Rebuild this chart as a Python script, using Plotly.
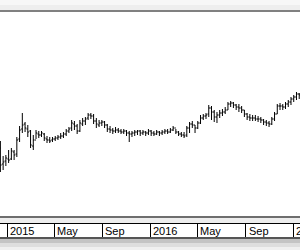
import pandas as pd
import plotly.graph_objects as go

# Weekly bars, first week starting 2014-12-15
start_week = "2014-12-15"
n_weeks = 110
dates = pd.date_range(start_week, periods=n_weeks, freq="7D")

opens = [15.2,13.6,13.9,14.1,14.1,14.8,14.6,16.1,17.1,17.6,
         17.1,16.9,15.4,16.0,16.6,16.5,16.6,16.1,16.0,16.0,
         16.1,16.2,16.3,16.4,16.6,16.9,17.2,17.6,17.4,16.9,
         17.6,17.9,18.2,18.5,18.4,17.9,17.5,17.7,17.8,17.5,
         17.1,17.0,16.9,17.0,16.9,16.8,16.9,16.7,16.6,16.7,
         16.8,16.9,16.7,16.8,16.7,16.9,16.7,16.6,16.8,16.7,
         16.8,16.9,16.8,17.0,17.2,16.8,16.6,16.5,16.5,17.2,
         17.6,17.5,17.2,17.7,18.2,18.4,18.6,19.2,18.8,18.3,
         18.5,18.7,18.8,19.0,19.6,19.7,19.5,19.3,19.2,19.0,
         18.6,18.3,18.2,18.2,18.1,18.1,18.0,17.8,17.7,17.6,
         18.1,18.6,19.4,19.4,19.3,19.6,19.8,20.1,20.3,20.6]
highs = [15.9,14.4,14.5,15.0,15.2,15.0,16.3,17.4,18.7,17.8,
         17.5,17.0,16.5,17.0,16.9,16.9,16.7,16.4,16.3,16.3,
         16.4,16.5,16.7,16.8,17.1,17.3,18.0,17.9,17.6,18.0,
         18.2,18.3,18.7,18.7,18.6,18.2,18.0,18.0,17.9,17.6,
         17.4,17.2,17.3,17.2,17.1,17.1,17.0,16.9,16.9,17.0,
         17.0,17.0,17.0,16.9,17.1,17.0,16.9,17.0,16.9,17.0,
         17.1,17.1,17.2,17.4,17.1,16.9,16.8,16.8,17.4,17.8,
         17.9,17.5,17.9,18.5,18.6,18.7,19.5,19.4,19.0,18.8,
         19.0,19.1,19.3,19.8,19.9,19.8,19.6,19.6,19.4,19.0,
         18.7,18.6,18.5,18.5,18.4,18.3,18.1,18.0,17.9,18.3,
         18.8,19.6,19.7,19.6,19.8,20.0,20.3,20.5,20.8,20.7]
lows = [12.8,13.0,13.4,13.7,14.0,14.0,14.3,15.8,16.7,16.8,
        16.3,15.2,15.0,16.1,16.2,16.3,15.9,15.7,15.7,15.8,
        15.9,16.0,16.1,16.2,16.4,16.7,16.9,17.0,16.6,16.8,
        17.4,17.5,18.0,18.1,17.6,17.2,17.3,17.4,17.2,16.8,
        16.7,16.6,16.7,16.7,16.6,16.6,16.4,15.8,16.3,16.4,
        16.5,16.4,16.5,16.4,16.5,16.4,16.4,16.5,16.4,16.5,
        16.6,16.6,16.7,16.9,16.6,16.4,16.3,16.2,16.3,16.7,
        17.2,16.7,17.1,17.6,18.0,18.1,18.3,18.0,17.8,17.7,
        18.2,18.4,18.6,19.0,19.3,19.2,19.0,18.8,18.7,18.3,
        18.0,17.9,17.9,17.9,17.8,17.7,17.5,17.4,17.3,17.5,
        17.9,18.6,19.0,19.0,19.1,19.3,19.5,19.8,20.0,20.1]
closes = [13.5,13.8,14.2,14.0,14.9,14.5,16.0,17.0,17.5,17.2,
          16.8,15.5,16.0,16.7,16.5,16.7,16.2,16.0,15.9,16.1,
          16.2,16.3,16.4,16.6,16.9,17.1,17.7,17.4,16.9,17.7,
          17.9,18.1,18.5,18.4,17.9,17.6,17.7,17.8,17.5,17.1,
          17.0,16.9,17.0,16.9,16.8,16.9,16.7,16.6,16.7,16.8,
          16.9,16.7,16.8,16.7,16.9,16.7,16.6,16.8,16.7,16.8,
          16.9,16.8,17.0,17.2,16.8,16.6,16.5,16.4,17.2,17.6,
          17.5,17.2,17.7,18.2,18.4,18.5,19.2,18.8,18.3,18.5,
          18.7,18.8,19.0,19.6,19.7,19.5,19.3,19.2,19.0,18.6,
          18.3,18.2,18.2,18.1,18.1,18.0,17.8,17.7,17.6,18.1,
          18.6,19.4,19.4,19.3,19.6,19.8,20.1,20.3,20.6,20.5]

tick_dates = ["2015-01-01", "2015-05-01", "2015-09-01", "2016-01-01",
              "2016-05-01", "2016-09-01", "2017-01-01"]
tick_labels = ["2015", "May", "Sep", "2016", "May", "Sep", "2017"]

W, H = 300, 250
TOP, AXIS_Y = 12, 223
PH = AXIS_Y - TOP


def py(ypix):
    return (AXIS_Y - ypix) / PH


fig = go.Figure(go.Ohlc(
    x=dates, open=opens, high=highs, low=lows, close=closes,
    increasing=dict(line=dict(color="#000000", width=1)),
    decreasing=dict(line=dict(color="#000000", width=1)),
    tickwidth=0.45, hoverinfo="skip", showlegend=False,
))

shapes = [
    # top grey band
    dict(type="rect", xref="paper", yref="paper", x0=0, x1=1, y0=py(0), y1=py(5),
         fillcolor="#f7f7f7", line_width=0, layer="above"),
    dict(type="rect", xref="paper", yref="paper", x0=0, x1=1, y0=py(5), y1=py(10),
         fillcolor="#eeeeee", line_width=0, layer="above"),
    dict(type="rect", xref="paper", yref="paper", x0=0, x1=1, y0=py(10), y1=py(12),
         fillcolor="#808080", line_width=0, layer="above"),
    # band above the date strip
    dict(type="rect", xref="paper", yref="paper", x0=0, x1=1, y0=py(216), y1=py(218),
         fillcolor="#6e6e6e", line_width=0, layer="above"),
    dict(type="rect", xref="paper", yref="paper", x0=0, x1=1, y0=py(218), y1=py(223),
         fillcolor="#ededed", line_width=0, layer="above"),
    # bottom of date strip
    dict(type="rect", xref="paper", yref="paper", x0=0, x1=1, y0=py(237), y1=py(239),
         fillcolor="#555555", line_width=0, layer="above"),
    dict(type="rect", xref="paper", yref="paper", x0=0, x1=1, y0=py(239), y1=py(243),
         fillcolor="#c4c4c4", line_width=0, layer="above"),
    dict(type="rect", xref="paper", yref="paper", x0=0, x1=1, y0=py(243), y1=py(247),
         fillcolor="#dedede", line_width=0, layer="above"),
    dict(type="rect", xref="paper", yref="paper", x0=0, x1=1, y0=py(247), y1=py(250),
         fillcolor="#f0f0f0", line_width=0, layer="above"),
]

annotations = [
    dict(x=d, y=py(230.5), xref="x", yref="paper", text=t, showarrow=False,
         xanchor="left", yanchor="middle", xshift=1,
         font=dict(family="Liberation Sans, Arial, sans-serif", size=11, color="#000000"))
    for d, t in zip(tick_dates, tick_labels)
]

fig.update_layout(
    width=W, height=H,
    margin=dict(l=0, r=0, t=TOP, b=H - AXIS_Y, pad=0),
    paper_bgcolor="#ffffff", plot_bgcolor="#ffffff",
    font=dict(family="Liberation Sans, Arial, sans-serif", size=11, color="#000000"),
    shapes=shapes,
    annotations=annotations,
    xaxis=dict(
        range=["2014-12-14", "2017-01-18"],
        rangeslider=dict(visible=False),
        showgrid=False, zeroline=False,
        showline=True, linecolor="#000000", linewidth=1,
        ticks="outside", ticklen=15, tickwidth=1, tickcolor="#000000",
        tickvals=tick_dates, showticklabels=False,
    ),
    yaxis=dict(range=[7.7, 28.8], visible=False, showgrid=False, zeroline=False),
)

fig.write_html("out.html")
